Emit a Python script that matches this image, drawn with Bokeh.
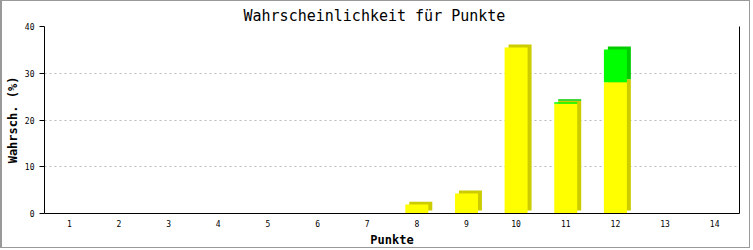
from bokeh.plotting import figure
from bokeh.models import Range1d, LinearAxis, FixedTicker, ColumnDataSource
from bokeh.transform import dodge
from bokeh.embed import file_html
from bokeh.resources import INLINE

# ---- data ----
punkte = [1, 2, 3, 4, 5, 6, 7, 8, 9, 10, 11, 12, 13, 14]
gelb = [0, 0, 0, 0, 0, 0, 0, 1.9, 4.3, 35.5, 23.5, 28.1, 0, 0]
gruen = [0, 0, 0, 0, 0, 0, 0, 0, 0, 0, 0.3, 7.0, 0, 0]
y_ticks = [0, 10, 20, 30, 40]
title_text = "Wahrscheinlichkeit für Punkte"
x_title = "Punkte"
y_title = "Wahrsch. (%)"

MONO = "DejaVu Sans Mono"
DY = 0.64  # shadow lift (y units)
DX = 0.08  # shadow shift (x units)

gesamt = [a + b for a, b in zip(gelb, gruen)]
src = ColumnDataSource(dict(
    x=punkte,
    gelb=gelb,
    gesamt=gesamt,
    gelb_s_bot=[DY if g > 0 else 0 for g in gelb],
    gelb_s_top=[g + DY if g > 0 else 0 for g in gelb],
    gruen_s_bot=[g + DY if t > g else 0 for g, t in zip(gelb, gesamt)],
    gruen_s_top=[t + DY if t > g else 0 for g, t in zip(gelb, gesamt)],
    zero=[0] * len(punkte),
))

# page is 753x250 including a 2px/1px css border
p = figure(width=750, height=248, x_range=Range1d(0.5, 14.5), y_range=Range1d(0, 40),
           output_backend="svg", toolbar_location=None,
           min_border_left=41, min_border_right=13, min_border_top=25, min_border_bottom=35,
           x_axis_label=x_title, y_axis_label=y_title, title=title_text)
p.styles = {"border-left": "2px solid #999999", "border-top": "1px solid #999999",
            "border-right": "1px solid #999999", "border-bottom": "1px solid #999999"}
p.outline_line_color = None
p.background_fill_color = "white"
p.border_fill_color = "white"

p.title.align = "left"
p.title.offset = 199
p.title.text_font = MONO
p.title.text_font_size = "15px"
p.title.text_font_style = "normal"
p.title.text_color = "black"
p.title.standoff = 4

W = 0.463
# shadows
p.vbar(x=dodge("x", DX, range=p.x_range), width=W, bottom="gelb_s_bot", top="gelb_s_top",
       source=src, fill_color="#CCCC00", line_color=None)
p.vbar(x=dodge("x", DX, range=p.x_range), width=W, bottom="gruen_s_bot", top="gruen_s_top",
       source=src, fill_color="#00CC00", line_color=None)
# fronts
p.vbar(x="x", width=W, bottom="zero", top="gelb", source=src, fill_color="#FFFF00", line_color=None)
p.vbar(x="x", width=W, bottom="gelb", top="gesamt", source=src, fill_color="#00FF00", line_color=None)

# grid
p.xgrid.grid_line_color = None
p.ygrid.grid_line_color = "#bbbbbb"
p.ygrid.grid_line_dash = "2 3"
p.ygrid.ticker = FixedTicker(ticks=y_ticks)

# y axis
ya = p.yaxis[0]
ya.ticker = FixedTicker(ticks=y_ticks)
ya.axis_line_color = "black"
ya.major_tick_line_color = "black"
ya.major_tick_out = 5
ya.major_tick_in = 0
ya.minor_tick_line_color = None
ya.major_label_text_font = MONO
ya.major_label_text_font_size = "8px"
ya.major_label_text_color = "black"
ya.major_label_standoff = 5
ya.axis_label_text_font = MONO
ya.axis_label_text_font_size = "12px"
ya.axis_label_text_font_style = "bold"
ya.axis_label_text_color = "black"
ya.axis_label_standoff = 2

# x axis
xa = p.xaxis[0]
xa.ticker = FixedTicker(ticks=punkte)
xa.axis_line_color = "black"
xa.major_tick_out = 0
xa.major_tick_in = 0
xa.minor_tick_line_color = None
xa.major_label_text_font = MONO
xa.major_label_text_font_size = "8px"
xa.major_label_text_color = "black"
xa.major_label_standoff = 6
xa.axis_label_text_font = MONO
xa.axis_label_text_font_size = "12px"
xa.axis_label_text_font_style = "bold"
xa.axis_label_text_color = "black"
xa.axis_label_standoff = 3

# right frame line
ra = LinearAxis(ticker=FixedTicker(ticks=[]), major_tick_line_color=None, minor_tick_line_color=None,
                major_label_text_font_size="0px", axis_line_color="black")
p.add_layout(ra, "right")

open("out.html", "w").write(file_html(p, INLINE))
